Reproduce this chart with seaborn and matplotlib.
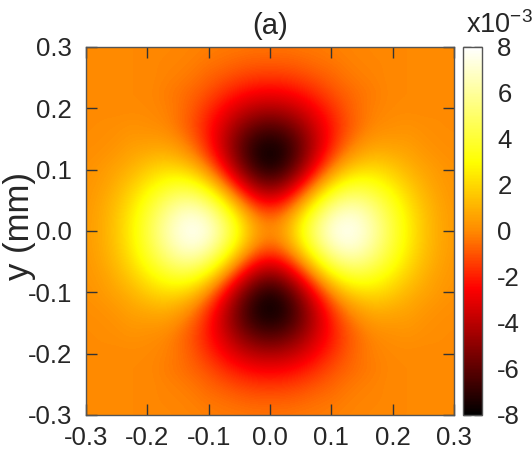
import numpy as np
import matplotlib
matplotlib.use("Agg")
import matplotlib.pyplot as plt
import seaborn as sns
from matplotlib.colors import LinearSegmentedColormap

# field values (x1e-3), first quadrant only, step 0.025 mm
# rows: y = 0 ... 0.3, columns: x = 0 ... 0.3
step = 0.025
quadrant = np.array([
    [ 0.0,  0.8,  2.9,  5.3,  7.2,  7.8,  7.2,  5.9,  4.2,  2.7,  1.6,  0.8,  0.4],
    [-0.8,  0.0,  2.1,  4.5,  6.4,  7.2,  6.8,  5.5,  4.0,  2.6,  1.5,  0.8,  0.4],
    [-2.9, -2.1,  0.0,  2.5,  4.6,  5.6,  5.5,  4.6,  3.4,  2.2,  1.3,  0.7,  0.3],
    [-5.3, -4.5, -2.5,  0.0,  2.2,  3.5,  3.8,  3.3,  2.5,  1.7,  1.0,  0.5,  0.3],
    [-7.2, -6.4, -4.6, -2.2,  0.0,  1.5,  2.1,  2.1,  1.7,  1.1,  0.7,  0.4,  0.2],
    [-7.8, -7.2, -5.6, -3.5, -1.5,  0.0,  0.8,  1.1,  0.9,  0.7,  0.4,  0.2,  0.1],
    [-7.2, -6.8, -5.5, -3.8, -2.1, -0.8,  0.0,  0.4,  0.4,  0.4,  0.2,  0.1,  0.1],
    [-5.9, -5.5, -4.6, -3.3, -2.1, -1.1, -0.4,  0.0,  0.1,  0.2,  0.1,  0.1,  0.0],
    [-4.2, -4.0, -3.4, -2.5, -1.7, -0.9, -0.4, -0.1,  0.0,  0.0,  0.0,  0.0,  0.0],
    [-2.7, -2.6, -2.2, -1.7, -1.1, -0.7, -0.4, -0.2,  0.0,  0.0,  0.0,  0.0,  0.0],
    [-1.6, -1.5, -1.3, -1.0, -0.7, -0.4, -0.2, -0.1,  0.0,  0.0,  0.0,  0.0,  0.0],
    [-0.8, -0.8, -0.7, -0.5, -0.4, -0.2, -0.1, -0.1,  0.0,  0.0,  0.0,  0.0,  0.0],
    [-0.4, -0.4, -0.3, -0.3, -0.2, -0.1, -0.1,  0.0,  0.0,  0.0,  0.0,  0.0,  0.0],
])

axis_ticks = [-0.3, -0.2, -0.1, 0.0, 0.1, 0.2, 0.3]
cbar_ticks = [-8, -6, -4, -2, 0, 2, 4, 6, 8]

# map is mirror symmetric in x and y
half = np.concatenate([quadrant[:0:-1], quadrant], axis=0)
field = np.concatenate([half[:, :0:-1], half], axis=1)
lim = step * (quadrant.shape[0] - 1)

sns.set_theme(style="ticks")
plt.rcParams["font.family"] = ["Liberation Sans", "DejaVu Sans"]
plt.rcParams["mathtext.fontset"] = "custom"
plt.rcParams["mathtext.rm"] = "Liberation Sans"

# gnuplot-like hot palette
cmap = LinearSegmentedColormap.from_list("hotpal", [
    (0.0, (0, 0, 0)),
    ((-2.5 + 8) / 16, (1, 0, 0)),
    (0.5, (1, 0.54, 0)),
    ((3 + 8) / 16, (1, 1, 0)),
    (1.0, (1, 1, 1)),
])

fig = plt.figure(figsize=(5.32, 4.55), dpi=100)
ax = fig.add_axes([86 / 532, 40 / 455, 368 / 532, 368 / 455])
cax = fig.add_axes([463 / 532, 40 / 455, 19 / 532, 368 / 455])

h = step / 2
im = ax.imshow(field, origin="lower", cmap=cmap, vmin=-8, vmax=8,
               extent=[-lim - h, lim + h, -lim - h, lim + h],
               interpolation="bicubic", aspect="auto")
ax.set_xlim(-lim, lim)
ax.set_ylim(-lim, lim)
ax.set_xticks(axis_ticks)
ax.set_yticks(axis_ticks)
ax.set_xticklabels([f"{t:.1f}" for t in axis_ticks])
ax.set_yticklabels([f"{t:.1f}" for t in axis_ticks])
ax.tick_params(direction="in", length=8, width=1, color="#333333",
               top=True, right=True, labelsize=18.5, pad=8)
ax.tick_params(axis="y", pad=10)
for s in ax.spines.values():
    s.set_color("#555555")
    s.set_linewidth(1)

ax.set_title("(a)", fontsize=21, pad=9)
fig.text(19 / 532, 1 - 226 / 455, "y (mm)", rotation=90, fontsize=25,
         ha="center", va="center")

cb = fig.colorbar(im, cax=cax, ticks=cbar_ticks)
cb.outline.set_edgecolor("#555555")
cb.outline.set_linewidth(1)
cax.tick_params(direction="in", length=6, width=1, color="#333333",
                left=True, right=True, labelsize=18.5, pad=11)
cax.set_yticklabels([str(t) for t in cbar_ticks])
fig.text(466 / 532, 1 - 33 / 455, r"x10$^{\mathregular{-3}}$", fontsize=19.5,
         ha="left", va="baseline")

fig.savefig("out.png", dpi=100)
